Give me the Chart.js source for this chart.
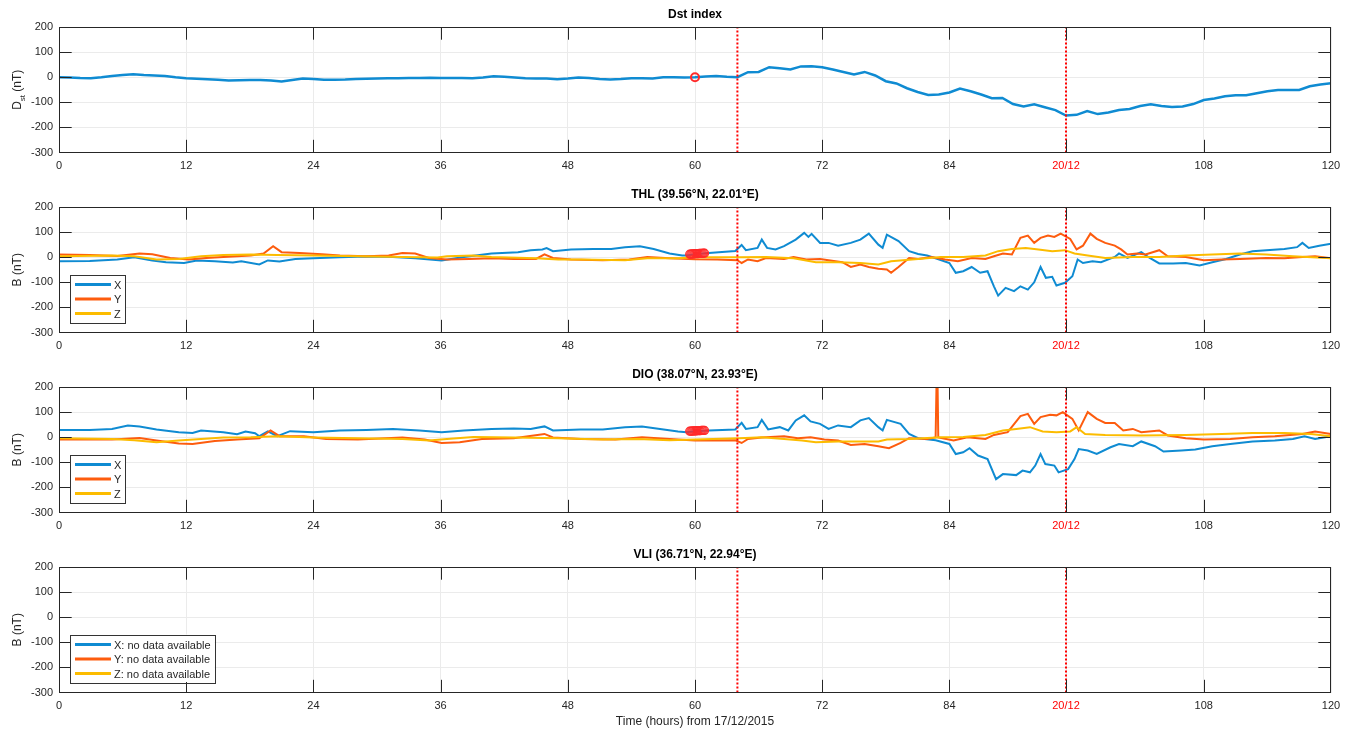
<!DOCTYPE html>
<html>
<head>
<meta charset="utf-8">
<title>Dst index and magnetometer records</title>
<script src="https://cdn.jsdelivr.net/npm/chart.js"></script>
<style>
  body { margin: 0; background: #fff; }
  .panel { position: absolute; left: 0; width: 1352px; }
</style>
</head>
<body>
<div class="panel" style="top:0;height:180px"><canvas id="dstChart"></canvas></div>
<div class="panel" style="top:180px;height:180px"><canvas id="thlChart"></canvas></div>
<div class="panel" style="top:360px;height:180px"><canvas id="dioChart"></canvas></div>
<div class="panel" style="top:540px;height:191px"><canvas id="vliChart"></canvas></div>

<script>
// x axis ticks (hours from 17/12/2015), the one at 95 is labelled by date
const xTicks = [0, 12, 24, 36, 48, 60, 72, 84, 95, 108, 120];
const dateTick = 95;
const dateLabel = '20/12';
const eventHours = [64, 95];

// Dst index, hourly values
const dstHours = Array.from({length: 121}, (_, i) => i);
const dstValues = [
  0, -1, -3, -4, 0, 5, 9, 12, 9, 7, 5, 0, -4, -6, -8, -10, -13, -12, -11, -11,
  -13, -17, -11, -5, -7, -10, -10, -9, -7, -6, -5, -4, -4, -3, -3, -2, -3, -3, -3, -4,
  -1, 4, 2, -1, -4, -5, -5, -8, -5, -1, -3, -7, -9, -7, -4, -4, -5, 0, 0, -1,
  0, 3, 5, 2, 0, 20, 21, 40, 36, 31, 43, 44, 40, 31, 21, 11, 21, 7, -16, -25,
  -44, -59, -71, -69, -61, -45, -56, -69, -84, -83, -107, -117, -108, -120, -131, -153, -150, -135, -147, -141,
  -131, -127, -115, -108, -115, -119, -117, -107, -91, -85, -76, -72, -72, -64, -56, -51, -51, -51, -36, -29,
  -24
];
const dstMarkHours = [60];
const dstMarkValues = [0];

// THL (39.56N, 22.01E)
const thlXHours = [0, 2.9, 5.5, 7.1, 8.8, 10.1, 11.8, 13, 14.7, 16.4, 17.2, 18.9, 19.7, 20.8, 22.3, 24, 26.5, 29, 31.5, 33.6,
  36.1, 38.2, 40.8, 43.3, 44.5, 45.6, 46, 46.6, 48.3, 50.4, 52.1, 53.4, 54.8, 56.1, 57.6, 58.8, 59.2, 60, 61.3, 63.8,
  64.4, 64.8, 65.9, 66.3, 66.8, 67.6, 68.4, 69.5, 70.3, 70.7, 71, 71.8, 72.6, 73.5, 74.7, 75.6, 76.4, 77.3, 77.7, 78.1,
  79.2, 80.2, 81.05, 81.9, 82.9, 84, 84.6, 85.3, 86.1, 86.9, 87.6, 88.2, 88.6, 89.3, 90.1, 90.7, 91.4, 92, 92.6, 93.1,
  93.7, 94.1, 94.9, 95.6, 96.1, 96.6, 97.5, 98.3, 99.6, 100, 100.8, 102.1, 102.9, 103.8, 105.1, 106.3, 107.6, 108.8, 110.1, 111.4,
  112.6, 113.9, 115.6, 116.8, 117.3, 117.9, 118.9, 120];
const thlXValues = [-16, -15, -9, 0, -13, -20, -23, -13, -16, -21, -16, -29, -13, -17, -7, -4, 0, 3, 1, -4,
  -13, 1, 15, 20, 28, 31, 36, 24, 31, 33, 33, 40, 44, 33, 15, 7, 7, 12, 17, 25,
  49, 28, 37, 70, 37, 31, 44, 70, 97, 81, 93, 57, 57, 46, 57, 70, 94, 50, 37, 90,
  64, 24, 13, 7, -7, -23, -62, -56, -39, -62, -56, -116, -153, -122, -135, -116, -129, -100, -39, -82,
  -78, -113, -102, -76, -9, -23, -16, -20, 1, 15, -3, 20, -3, -25, -25, -23, -33, -20, -7, 11,
  24, 28, 33, 40, 57, 37, 46, 54];
const thlYHours = [0, 2.9, 5.5, 7.6, 8.8, 10.5, 12.2, 13.9, 15.5, 18.1, 19.3, 20.2, 21, 22.7, 24.8, 26.5, 29, 31.1, 32.4, 33.6,
  34.9, 36.6, 38.7, 40.8, 42.9, 45, 45.8, 46.6, 48.3, 51.3, 53.8, 55.5, 57.6, 60, 62.1, 64, 64.4, 65, 65.9, 66.7,
  68.4, 69.3, 70.5, 71.8, 72.6, 73.9, 74.7, 75.6, 76.4, 77.3, 78.1, 78.5, 79.2, 80.2, 81.05, 82.3, 83.6, 84.8, 86.1, 87.4,
  88.2, 89.05, 89.9, 90.7, 91.4, 92, 92.6, 93.3, 93.9, 94.5, 95.4, 96, 96.6, 97.3, 97.9, 98.7, 99.6, 100.2, 100.8, 101.7,
  102.5, 103.8, 104.6, 106.3, 108, 109.7, 111.4, 113.9, 115.6, 117.3, 118.5, 120];
const thlYValues = [11, 9, 5, 15, 12, -3, -9, -3, 1, 7, 15, 44, 20, 17, 12, 7, 4, 7, 17, 15,
  -3, -9, -7, -4, -7, -7, 11, -3, -9, -12, -9, 1, -4, -8, -9, -12, -23, -9, -16, -3,
  -7, 1, -9, -7, -12, -20, -39, -29, -39, -46, -49, -62, -39, -3, -7, 1, -9, -16, -3, -7,
  4, 15, 11, 77, 86, 57, 77, 86, 81, 94, 73, 31, 46, 94, 73, 57, 46, 31, 11, 15,
  11, 28, 4, 1, -12, -9, -7, -3, -4, 1, 4, -4];
const thlZHours = [0, 5, 7.1, 9.2, 11.3, 13.4, 15.5, 18.1, 20.6, 24, 28.2, 32.4, 35.7, 36.6, 39.1, 40.8, 45, 47.1, 49.2, 53.4,
  55.5, 58.4, 60, 64.2, 66.7, 69.3, 71.4, 73.5, 75.6, 77.3, 78.5, 81.05, 83.2, 85.3, 87.4, 88.6, 89.9, 91.2, 92.4, 93.7,
  94.9, 95.8, 97.05, 98.7, 101.3, 103.8, 106.3, 108.8, 111.4, 113.9, 116.4, 120];
const thlZValues = [4, 7, 4, -9, -7, 4, 9, 11, 9, 7, 4, 1, -1, 4, 7, 1, -4, -9, -9, -12,
  -4, -4, 0, 0, 1, -4, -20, -20, -23, -29, -16, -7, 1, 1, 7, 24, 33, 37, 31, 24,
  28, 15, 7, -3, 1, 1, 7, 11, 15, 11, 4, -4];
const thlMarkHours = [59.5, 59.6, 59.7, 59.8, 59.9, 60, 60.1, 60.2, 60.3, 60.4, 60.5, 60.6, 60.7, 60.8, 60.9];
const thlMarkValues = [12, 12, 13, 13, 13, 14, 14, 14, 14, 15, 15, 15, 15, 16, 16];

// DIO (38.07N, 23.93E)
const dioXHours = [0, 2.9, 5, 6.5, 7.6, 9.2, 11.3, 12.6, 13.4, 15.5, 16.8, 17.6, 18.5, 18.9, 19.7, 20.6, 21.8, 24, 26.5, 29,
  31.5, 34, 36.1, 38.2, 40.8, 42.9, 44.5, 45.8, 46.6, 49.2, 51.3, 53.4, 55, 56.7, 58.4, 59.2, 60, 61.3, 63.8, 64.4,
  64.8, 65.9, 66.3, 66.9, 68, 68.8, 69.5, 70.3, 70.9, 71.8, 72.6, 73.5, 74.7, 75.6, 76.4, 77.3, 77.7, 78.1, 79.4, 80.2,
  81.05, 82.7, 84, 84.6, 85.3, 85.9, 86.7, 87.6, 88.4, 89.05, 90.3, 90.9, 91.6, 92.1, 92.6, 93.05, 93.9, 94.3, 95.2, 95.8,
  96.2, 97.05, 97.9, 99.2, 100, 101.3, 102.1, 103.4, 104.2, 105.9, 107.2, 108.8, 110.5, 112.6, 114.7, 116.4, 117.5, 118.5, 120];
const dioXValues = [29, 29, 33, 47, 43, 31, 20, 17, 27, 20, 12, 23, 16, 4, 23, 4, 24, 20, 27, 29,
  33, 27, 20, 27, 33, 35, 33, 43, 27, 31, 31, 40, 43, 33, 23, 20, 24, 27, 31, 57,
  33, 40, 69, 31, 40, 27, 67, 87, 63, 53, 33, 47, 40, 67, 76, 40, 27, 69, 53, 13,
  -4, -12, -27, -67, -60, -44, -73, -87, -167, -147, -151, -133, -140, -113, -67, -107, -113, -140, -127, -87,
  -47, -53, -67, -40, -27, -36, -17, -36, -57, -53, -49, -36, -27, -17, -13, -7, 4, -7, 4];
const dioYHours = [0, 5, 7.6, 9.2, 11.3, 12.6, 14.7, 16.8, 18.9, 19.96, 20.8, 23.1, 25.2, 28.2, 32.4, 34.5, 36.1, 37.8, 39.9, 42.9,
  45.8, 46.6, 49.2, 52.5, 55, 57.6, 60, 63.8, 64.4, 65, 66.3, 68.4, 69.7, 70.9, 72.2, 73.5, 74.7, 76, 77.3, 78.3,
  79.4, 80.2, 81.9, 82.7, 82.84, 82.95, 84.4, 85.7, 87.4, 88.2, 89.5, 90.7, 91.4, 92, 92.6, 93.5, 94.1, 94.7, 95.6, 96.2,
  97.05, 97.9, 98.7, 99.6, 100.4, 101.3, 102.1, 103.8, 104.6, 106.3, 108, 110.5, 112.6, 114.7, 117.3, 118.5, 120];
const dioYValues = [-9, -9, -3, -13, -25, -27, -15, -9, -4, 27, 4, 4, -7, -9, -1, -9, -23, -20, -7, -4,
  13, -1, -7, -9, 0, -7, -13, -12, -23, -7, -1, 4, -4, 0, -9, -13, -31, -27, -36, -44,
  -23, -4, -7, -1, 350, -1, -13, 0, -7, 9, 20, 84, 93, 53, 80, 89, 87, 100, 73, 27,
  100, 73, 57, 57, 27, 33, 20, 27, 7, -4, -9, -7, 0, 4, 13, 23, 13];
const dioZHours = [0, 5, 7.1, 9.2, 11.3, 13.4, 15.5, 18.1, 20.6, 24, 28.2, 32.4, 34.9, 36.6, 39.1, 42.9, 47.1, 51.3, 54.6, 57.6,
  60, 64.2, 66.3, 68.4, 70.1, 71.4, 73.5, 75.6, 77.3, 78.1, 80.2, 83.2, 85.3, 87.4, 89.05, 90.3, 91.6, 92.8, 94.1, 95.4,
  96, 96.8, 98.7, 102.1, 106.3, 109.7, 112.6, 115.6, 118.1, 120];
const dioZValues = [-4, -7, -12, -20, -13, -7, -1, 0, 4, -1, -4, -7, -13, -7, 1, -1, -4, -9, -7, -12,
  -9, -4, 0, -7, -13, -20, -17, -17, -17, -9, -7, 0, 1, 9, 27, 33, 40, 23, 20, 23,
  40, 13, 9, 7, 9, 13, 17, 17, 13, 4];
const dioMarkHours = [59.5, 59.6, 59.7, 59.8, 59.9, 60, 60.1, 60.2, 60.3, 60.4, 60.5, 60.6, 60.7, 60.8, 60.9];
const dioMarkValues = [24, 24, 24, 25, 25, 25, 25, 26, 26, 26, 26, 27, 27, 27, 27];

const colX = '#0f8bd2';
const colY = '#fd5c0e';
const colZ = '#fcbc00';
const textCol = '#262626';
const font = '"Liberation Sans", Arial, sans-serif';

function pts(hours, values) {
  return hours.map((h, i) => ({x: h, y: values[i]}));
}

function eventLines() {
  return eventHours.map(h => ({
    data: [{x: h, y: -300}, {x: h, y: 200}],
    borderColor: '#ff0000', borderWidth: 2, borderDash: [2, 2],
    pointRadius: 0, order: 1
  }));
}

function series(label, color, hours, values, width, order) {
  return {
    label: label, legend: true, data: pts(hours, values),
    borderColor: color, backgroundColor: color, borderWidth: width,
    pointRadius: 0, tension: 0, order: order
  };
}

function markers(hours, values, bw) {
  return {
    data: pts(hours, values), showLine: false,
    pointRadius: 4, pointBorderWidth: bw, pointBorderColor: '#ff2a2a',
    pointBackgroundColor: 'rgba(0,0,0,0)', order: 0
  };
}

// MATLAB-like frame: closed box, inner ticks, titles and an inside legend
const matlabFrame = {
  id: 'matlabFrame',
  afterDatasetsDraw(chart, args, o) {
    const {ctx, chartArea: a, scales: {x, y}} = chart;
    const tl = 12.7;
    ctx.save();
    ctx.strokeStyle = textCol;
    ctx.lineWidth = 1;
    ctx.beginPath();
    x.ticks.forEach(t => {
      if (t.value <= x.min || t.value >= x.max) return;
      const px = Math.round(x.getPixelForValue(t.value)) + 0.5;
      ctx.moveTo(px, a.bottom); ctx.lineTo(px, a.bottom - tl);
      ctx.moveTo(px, a.top); ctx.lineTo(px, a.top + tl);
    });
    y.ticks.forEach(t => {
      if (t.value <= y.min || t.value >= y.max) return;
      const py = Math.round(y.getPixelForValue(t.value)) + 0.5;
      ctx.moveTo(a.left, py); ctx.lineTo(a.left + tl, py);
      ctx.moveTo(a.right, py); ctx.lineTo(a.right - tl, py);
    });
    ctx.stroke();
    ctx.strokeRect(Math.round(a.left) + 0.5, Math.round(a.top) + 0.5,
      Math.round(a.width) - 1, Math.round(a.height) - 1);

    // title
    ctx.fillStyle = '#000';
    ctx.font = 'bold 12px ' + font;
    ctx.textAlign = 'center';
    ctx.textBaseline = 'middle';
    ctx.fillText(o.title, (a.left + a.right) / 2, a.top - 12);

    // y label
    ctx.save();
    ctx.translate(18, (a.top + a.bottom) / 2);
    ctx.rotate(-Math.PI / 2);
    ctx.fillStyle = textCol;
    if (o.sub) {
      ctx.font = '12px ' + font;
      const w1 = ctx.measureText(o.yLabel).width;
      ctx.font = '8px ' + font;
      const w2 = ctx.measureText(o.sub).width;
      ctx.font = '12px ' + font;
      const w3 = ctx.measureText(o.yRest).width;
      let sx = -(w1 + w2 + w3) / 2;
      ctx.textAlign = 'left';
      ctx.fillText(o.yLabel, sx, 0);
      ctx.font = '8px ' + font;
      ctx.fillText(o.sub, sx + w1, 5);
      ctx.font = '12px ' + font;
      ctx.fillText(o.yRest, sx + w1 + w2, 0);
    } else {
      ctx.font = '12px ' + font;
      ctx.textAlign = 'center';
      ctx.fillText(o.yLabel, 0, 0);
    }
    ctx.restore();

    // x label
    if (o.xLabel) {
      ctx.fillStyle = textCol;
      ctx.font = '12px ' + font;
      ctx.textAlign = 'center';
      ctx.fillText(o.xLabel, (a.left + a.right) / 2, a.bottom + 29.5);
    }

    // legend inside the axes, lower left
    if (o.legend) {
      const items = chart.data.datasets.filter(d => d.legend);
      ctx.font = '11px ' + font;
      const tw = Math.max(...items.map(d => ctx.measureText(d.label).width));
      const bx = a.left + 11, bh = 47.5;
      const bw = 45 + tw + 3;
      const by = a.bottom - 10.5 - bh;
      ctx.fillStyle = '#fff';
      ctx.fillRect(bx, by, bw, bh);
      ctx.strokeStyle = '#333';
      ctx.lineWidth = 1;
      ctx.strokeRect(Math.round(bx) + 0.5, Math.round(by) + 0.5, Math.round(bw), Math.round(bh));
      items.forEach((d, i) => {
        const ry = by + 10 + i * 14.5;
        ctx.strokeStyle = d.borderColor;
        ctx.lineWidth = 3;
        ctx.beginPath();
        ctx.moveTo(bx + 5, ry); ctx.lineTo(bx + 41, ry);
        ctx.stroke();
        ctx.fillStyle = textCol;
        ctx.textAlign = 'left';
        ctx.textBaseline = 'middle';
        ctx.fillText(d.label, bx + 44, ry + 1);
      });
    }
    ctx.restore();
  }
};

function makePanel(id, datasets, frameOpts, axisHeight) {
  return new Chart(document.getElementById(id), {
    type: 'line',
    data: {datasets: datasets},
    options: {
      responsive: true,
      maintainAspectRatio: false,
      animation: false,
      events: [],
      layout: {padding: {top: 27, right: 21, left: 0, bottom: 0}},
      scales: {
        x: {
          type: 'linear', min: 0, max: 120,
          afterBuildTicks: s => { s.ticks = xTicks.map(v => ({value: v})); },
          afterFit: s => { s.height = axisHeight; },
          grid: {color: '#ebebeb', drawTicks: false},
          border: {display: false},
          ticks: {
            autoSkip: false, maxRotation: 0, padding: 7,
            font: {family: font, size: 11},
            color: c => (c.tick && c.tick.value === dateTick) ? '#ff0000' : textCol,
            callback: v => v === dateTick ? dateLabel : String(v)
          }
        },
        y: {
          min: -300, max: 200,
          afterFit: s => { s.width = 59; },
          grid: {color: '#ebebeb', drawTicks: false},
          border: {display: false},
          ticks: {stepSize: 100, padding: 6, font: {family: font, size: 11}, color: textCol}
        }
      },
      plugins: {
        legend: {display: false},
        tooltip: {enabled: false},
        matlabFrame: frameOpts
      }
    },
    plugins: [matlabFrame]
  });
}

makePanel('dstChart', [
  markers(dstMarkHours, dstMarkValues, 2),
  ...eventLines(),
  {data: pts(dstHours, dstValues), borderColor: colX, borderWidth: 2.5, pointRadius: 0, order: 4}
], {title: 'Dst index', yLabel: 'D', sub: 'st', yRest: ' (nT)'}, 27.5);

makePanel('thlChart', [
  series('X', colX, thlXHours, thlXValues, 2, 4),
  series('Y', colY, thlYHours, thlYValues, 2, 3),
  series('Z', colZ, thlZHours, thlZValues, 2, 2),
  markers(thlMarkHours, thlMarkValues, 1.2),
  ...eventLines()
], {title: 'THL (39.56°N, 22.01°E)', yLabel: 'B (nT)', legend: true}, 27.5);

makePanel('dioChart', [
  series('X', colX, dioXHours, dioXValues, 2, 4),
  series('Y', colY, dioYHours, dioYValues, 2, 3),
  series('Z', colZ, dioZHours, dioZValues, 2, 2),
  markers(dioMarkHours, dioMarkValues, 1.2),
  ...eventLines()
], {title: 'DIO (38.07°N, 23.93°E)', yLabel: 'B (nT)', legend: true}, 27.5);

makePanel('vliChart', [
  series('X: no data available', colX, [], [], 2, 4),
  series('Y: no data available', colY, [], [], 2, 3),
  series('Z: no data available', colZ, [], [], 2, 2),
  ...eventLines()
], {title: 'VLI (36.71°N, 22.94°E)', yLabel: 'B (nT)', legend: true,
    xLabel: 'Time (hours) from 17/12/2015'}, 38.5);
</script>
</body>
</html>
